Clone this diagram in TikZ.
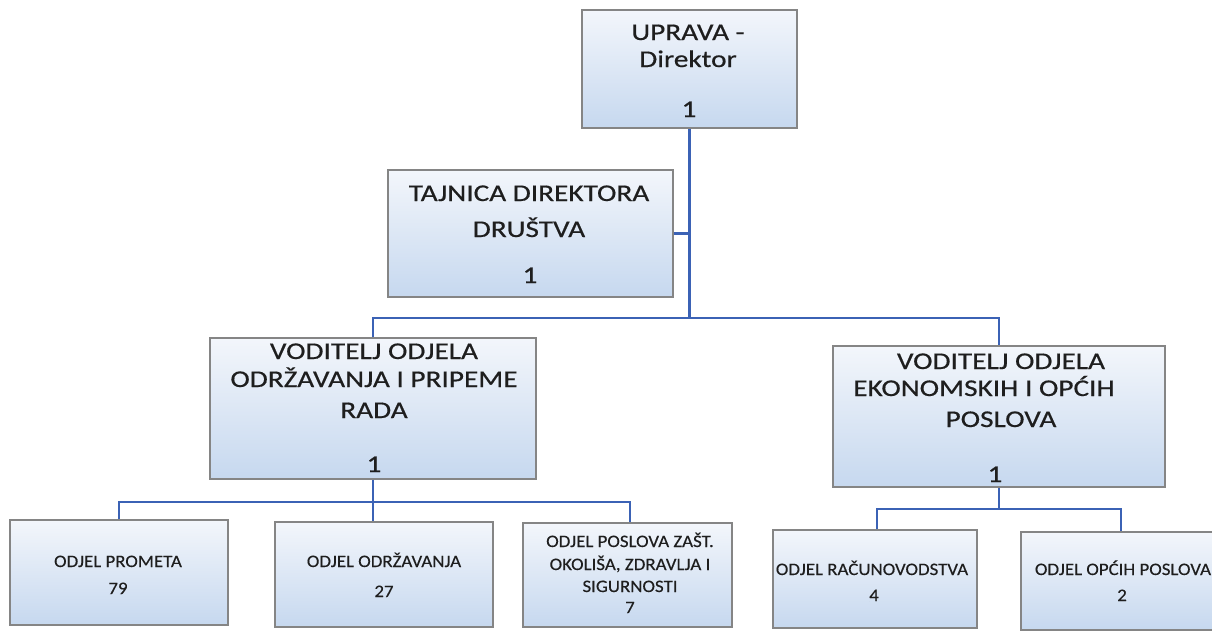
\documentclass[tikz,border=0pt]{standalone}
\usepackage{fontspec}
\setmainfont{Carlito}
\newfontfamily\bigf{Carlito}[FakeStretch=1.22,FakeBold=0.5]
\newfontfamily\smallf{Carlito}[FakeStretch=1.08,FakeBold=0.3]
\definecolor{conn}{HTML}{3B62B5}
\definecolor{bord}{HTML}{858585}
\definecolor{boxtop}{HTML}{F3F6FB}
\definecolor{boxbot}{HTML}{C6D8EF}
\definecolor{ink}{HTML}{1E1E1E}
\begin{document}
\begin{tikzpicture}[x=1pt,y=-1pt,
  orgbox/.style={draw=bord,line width=1.4pt,top color=boxtop,bottom color=boxbot,inner sep=0pt,rectangle},
  link/.style={draw=conn,line width=2.2pt},
  bigtxt/.style={anchor=base,inner sep=0pt,text=ink,font=\bigf\fontsize{24}{28}\selectfont},
  smalltxt/.style={anchor=base,inner sep=0pt,text=ink,font=\smallf\fontsize{17.5}{21}\selectfont}]
\fill[white] (0,0) rectangle (1212,630);
\useasboundingbox (0,0) rectangle (1212,630);

% boxes
\node[orgbox,minimum width=215pt,minimum height=118pt] (up) at (689.5,69) {};
\node[orgbox,minimum width=285pt,minimum height=127pt] (taj) at (530.5,233.5) {};
\node[orgbox,minimum width=326pt,minimum height=141pt] (vl) at (373,408.5) {};
\node[orgbox,minimum width=332pt,minimum height=141pt] (vr) at (999,416.5) {};
\node[orgbox,minimum width=218pt,minimum height=105pt] (c1) at (119,572.5) {};
\node[orgbox,minimum width=218pt,minimum height=105pt] (c2) at (384,574.5) {};
\node[orgbox,minimum width=209pt,minimum height=104pt] (c3) at (627.5,575) {};
\node[orgbox,minimum width=204pt,minimum height=98pt] (c4) at (875,579) {};
\node[orgbox,minimum width=204pt,minimum height=98pt] (c5) at (1123,581) {};

% junctions
\coordinate (j1) at (689,318);
\coordinate (j2) at (373,502);
\coordinate (j3) at (999,509);

% connectors
\draw[link] (up.south) -- (up.south |- j1);
\draw[link] (taj.east) -- (taj.east -| up.south);
\draw[link] (vl.north) |- (vr.north |- j1) -- (vr.north);
\draw[link] (vl.south) -- (vl.south |- c2.north);
\draw[link] (c1.north) |- ([xshift=2.5pt]c3.north |- j2) -- ([xshift=2.5pt]c3.north);
\draw[link] (vr.south) -- (vr.south |- j3);
\draw[link] ([xshift=2pt]c4.north) |- ([xshift=-2pt]c5.north |- j3) -- ([xshift=-2pt]c5.north);

% texts
\node[bigtxt] (upt1) at (688,40) {UPRAVA -};
\node[bigtxt] (upt2) at (688,67) {Direktor};
\node[bigtxt] (upn) at (689,117) {1};

\node[bigtxt] (tajt1) at (529,201) {TAJNICA DIREKTORA};
\node[bigtxt] (tajt2) at (529,237) {DRUŠTVA};
\node[bigtxt] (tajn) at (530,283) {1};

\node[bigtxt] (vlt1) at (374,359) {VODITELJ ODJELA};
\node[bigtxt] (vlt2) at (374,387) {ODRŽAVANJA I PRIPEME};
\node[bigtxt] (vlt3) at (374,418) {RADA};
\node[bigtxt] (vln) at (374,472) {1};

\node[bigtxt] (vrt1) at (1001,369) {VODITELJ ODJELA};
\node[bigtxt] (vrt2) at (984,396) {EKONOMSKIH I OPĆIH};
\node[bigtxt] (vrt3) at (1001,427) {POSLOVA};
\node[bigtxt] (vrn) at (995,482) {1};

\node[smalltxt] (c1t) at (118,567) {ODJEL PROMETA};
\node[smalltxt] (c1n) at (118,594) {79};
\node[smalltxt] (c2t) at (384,567) {ODJEL ODRŽAVANJA};
\node[smalltxt] (c2n) at (384,597) {27};
\node[smalltxt] (c3t1) at (630,547) {ODJEL POSLOVA ZAŠT.};
\node[smalltxt] (c3t2) at (630,570) {OKOLIŠA, ZDRAVLJA I};
\node[smalltxt] (c3t3) at (630,592) {SIGURNOSTI};
\node[smalltxt] (c3n) at (630,613) {7};
\node[smalltxt] (c4t) at (872,575) {ODJEL RAČUNOVODSTVA};
\node[smalltxt] (c4n) at (874,601) {4};
\node[smalltxt] (c5t) at (1123,575) {ODJEL OPĆIH POSLOVA};
\node[smalltxt] (c5n) at (1122,601) {2};
\end{tikzpicture}
\end{document}
